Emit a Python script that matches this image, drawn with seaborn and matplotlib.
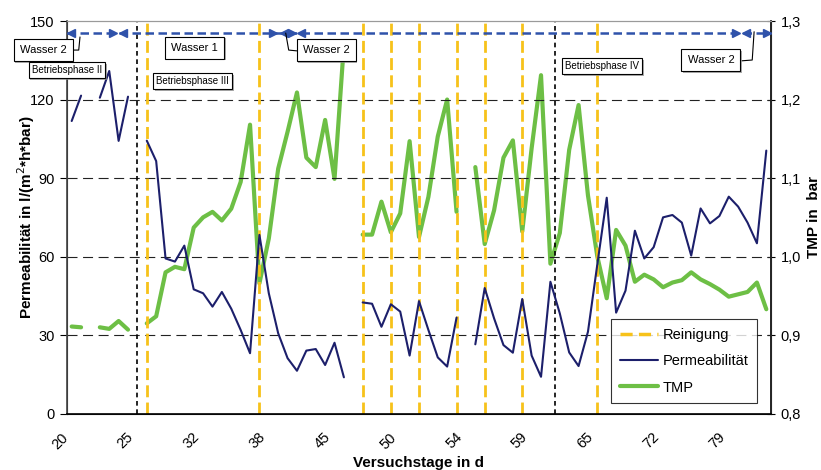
import numpy as np
import pandas as pd
import matplotlib
matplotlib.use("Agg")
import matplotlib.pyplot as plt
import matplotlib.patheffects as pe
import matplotlib.transforms as mtransforms
import seaborn as sns
from matplotlib.lines import Line2D
from matplotlib.ticker import FuncFormatter, FixedLocator

nan = np.nan

# ---- data -------------------------------------------------------------
tick_positions = [0, 7, 14, 21, 28, 35, 42, 49, 56, 63, 70]
tick_labels = ["20", "25", "32", "38", "45", "50", "54", "59", "65", "72", "79"]

permeability = [111.8, 121.5, nan, 120.7, 130.9, 104.2, 121.1, nan, 104.3, 96.5,
                59.3, 58.1, 64.2, 47.5, 46.0, 40.9, 46.5, 40.1, 32.0, 23.1,
                68.3, 46.0, 30.7, 21.2, 16.4, 24.1, 24.7, 18.6, 27.1, 13.9,
                nan, 42.5, 42.0, 33.2, 41.8, 39.0, 22.2, 43.0, 32.0, 21.5,
                18.0, 36.7, nan, 26.5, 48.0, 36.4, 26.2, 23.3, 43.8, 22.2,
                14.1, 50.4, 38.3, 23.4, 18.2, 31.3, 57.1, 82.5, 38.6, 47.0,
                69.9, 59.3, 63.6, 75.0, 75.9, 73.0, 60.4, 78.4, 72.7, 75.5,
                82.9, 79.1, 73.0, 65.1, 100.5]

tmp = [0.911, 0.910, nan, 0.910, 0.908, 0.918, 0.907, nan, 0.915, 0.924,
       0.980, 0.987, 0.984, 1.037, 1.050, 1.057, 1.046, 1.061, 1.095, 1.168,
       0.966, 1.023, 1.112, 1.159, 1.209, 1.126, 1.114, 1.174, 1.099, 1.270,
       nan, 1.028, 1.028, 1.070, 1.031, 1.055, 1.147, 1.025, 1.076, 1.153,
       1.200, 1.057, nan, 1.114, 1.016, 1.059, 1.126, 1.148, 1.032, 1.138,
       1.231, 0.991, 1.030, 1.136, 1.193, 1.078, 1.000, 0.947, 1.034, 1.014,
       0.968, 0.977, 0.971, 0.961, 0.967, 0.970, 0.980, 0.971, 0.965, 0.958,
       0.949, 0.952, 0.955, 0.967, 0.933]

cleaning_idx = [8, 20, 31, 34, 37, 41, 44, 48, 56]
phase_idx = [7, 51.5]

water_segments = [(-0.45, 4.7), (5.15, 21.8), (22.3, 23.8), (24.1, 71.1), (71.5, 74.45)]
water_labels = [("Wasser 2", -3.05, 138.8), ("Wasser 1", 13.1, 139.8),
                ("Wasser 2", 27.1, 139.0), ("Wasser 2", 68.1, 135.1)]
phase_labels = [("Betriebsphase II", -0.5, 131.3), ("Betriebsphase III", 12.9, 127.0),
                ("Betriebsphase IV", 56.5, 132.7)]

# ---- style ------------------------------------------------------------
sns.set_style("white")
plt.rcParams['font.family'] = ['Liberation Sans', 'DejaVu Sans']
for k in ["text.color", "axes.labelcolor", "xtick.color", "ytick.color"]:
    plt.rcParams[k] = "black"

NAVY = "#1c1f6b"
GREEN = "#6dbf45"
GOLD = "#f7c21a"
ARROW = "#2f52aa"

fig = plt.figure(figsize=(8.21, 4.70), dpi=100)
ax = fig.add_axes([0.0816, 0.1198, 0.8575, 0.8355])
ax2 = ax.twinx()

df = pd.DataFrame({"idx": np.arange(len(permeability)),
                   "perm": permeability, "tmp": tmp})
df["seg"] = df["perm"].isna().cumsum()
dfp = df.dropna(subset=["perm"])
dft = df.dropna(subset=["tmp"])

# reference lines
for x in cleaning_idx:
    ax.plot([x, x], [0, 150], color=GOLD, lw=2.0, dashes=(4.3, 1.9), zorder=2)
for x in phase_idx:
    ax.plot([x, x], [0, 150], color="black", lw=1.2, dashes=(2.8, 2.2), zorder=2)

for y in [30, 60, 90, 120]:
    ax.axhline(y, color="#222222", lw=0.8, dashes=(9, 5), zorder=1)

sns.lineplot(data=dfp, x="idx", y="perm", units="seg", estimator=None,
             color=NAVY, lw=1.5, ax=ax, legend=False, zorder=4)
sns.lineplot(data=dft, x="idx", y="tmp", units="seg", estimator=None,
             color=GREEN, lw=3.0, ax=ax2, legend=False, zorder=3)

# axes limits / ticks
ax.set_xlim(-0.5, 74.5)
ax.set_ylim(0, 150)
ax2.set_ylim(0.8, 1.3)
ax.set_yticks([0, 30, 60, 90, 120, 150])
ax2.set_yticks([0.8, 0.9, 1.0, 1.1, 1.2, 1.3])
ax2.yaxis.set_major_formatter(FuncFormatter(lambda v, p: f"{v:.1f}".replace(".", ",")))

ax.xaxis.set_major_locator(FixedLocator(tick_positions))
ax.set_xticklabels(tick_labels, rotation=45, ha="right", rotation_mode="anchor")
ax.xaxis.set_minor_locator(FixedLocator(np.arange(-0.5, 75, 1.0)))
ax.tick_params(axis="x", which="major", length=0, pad=9, labelsize=10.5, labelcolor="black")
ax.tick_params(axis="x", which="minor", length=5, width=0.8, direction="out", color="black")
ax.tick_params(axis="y", length=5, width=0.8, direction="out", labelsize=10.5, pad=4, labelcolor="black")
ax2.tick_params(axis="y", length=6, width=0.8, direction="inout", labelsize=10.5, pad=4, labelcolor="black")

offset = mtransforms.ScaledTranslation(-0.11, -0.04, fig.dpi_scale_trans)
for lbl in ax.get_xticklabels():
    lbl.set_transform(lbl.get_transform() + offset)

for a in (ax, ax2):
    for s in a.spines.values():
        s.set_visible(True)
    a.spines["top"].set_color("#9a9a9a")
    a.spines["top"].set_linewidth(0.8)
ax.spines["left"].set_color("#444444")
ax.spines["left"].set_linewidth(1.2)
ax.spines["bottom"].set_color("black")
ax.spines["bottom"].set_linewidth(1.2)
ax2.spines["right"].set_color("black")
ax2.spines["right"].set_linewidth(1.2)

ax.set_xlabel("Versuchstage in d", fontsize=11, fontweight="bold", labelpad=3)
ax.set_ylabel("Permeabilität in l/(m$^{2}$*h*bar)", fontsize=11, fontweight="bold", labelpad=-5)
ax2.set_ylabel("TMP in  bar", fontsize=11, fontweight="bold", labelpad=4)

ax.set_zorder(ax2.get_zorder() + 1)
ax.patch.set_visible(False)

# water arrows
ya = 145.4
ax.plot([-0.5, 74.5], [ya, ya], color=ARROW, lw=1.8, dashes=(3.4, 1.8), zorder=5, clip_on=False)
for a0, a1 in water_segments:
    ax.plot([a0 + 0.35], [ya], marker="<", color=ARROW, ms=6, zorder=6, clip_on=False)
    ax.plot([a1 - 0.35], [ya], marker=">", color=ARROW, ms=6, zorder=6, clip_on=False)

# leader lines
for xs, ys in [([0.885, 0.75, 0.2], [143.9, 138.9, 138.9]),
               ([22.8, 23.12, 23.97], [145.4, 138.9, 138.6]),
               ([72.7, 72.5, 71.4], [145.9, 135.1, 134.8])]:
    ax.plot(xs, ys, color="black", lw=0.8, zorder=6, clip_on=False)

def box(txt, x, y, fs, pad):
    t = ax.text(x, y, txt, ha="center", va="center", fontsize=fs, zorder=7,
                clip_on=False,
                bbox=dict(boxstyle=f"square,pad={pad}", fc="white", ec="black", lw=0.8))
    t.get_bbox_patch().set_path_effects([pe.SimplePatchShadow(offset=(1.2, -1.2), shadow_rgbFace="#888888", alpha=0.7), pe.Normal()])
    return t

for txt, x, y in water_labels:
    box(txt, x, y, 8, 0.55)
for txt, x, y in phase_labels:
    box(txt, x, y, 7, 0.32)

# legend
handles = [Line2D([], [], color=GOLD, lw=2.5, dashes=(3.5, 1.8)),
           Line2D([], [], color=NAVY, lw=1.5),
           Line2D([], [], color=GREEN, lw=3.0)]
leg = ax.legend(handles, ["Reinigung", "Permeabilität", "TMP"],
                loc="lower right", bbox_to_anchor=(0.98, 0.0265), borderaxespad=0,
                fontsize=10.5, frameon=True, fancybox=False, edgecolor="black",
                handlelength=2.6, labelspacing=0.85, borderpad=0.6, handletextpad=0.3)
leg.get_frame().set_linewidth(0.8)
leg.set_zorder(10)

fig.savefig("out.png", dpi=100)
